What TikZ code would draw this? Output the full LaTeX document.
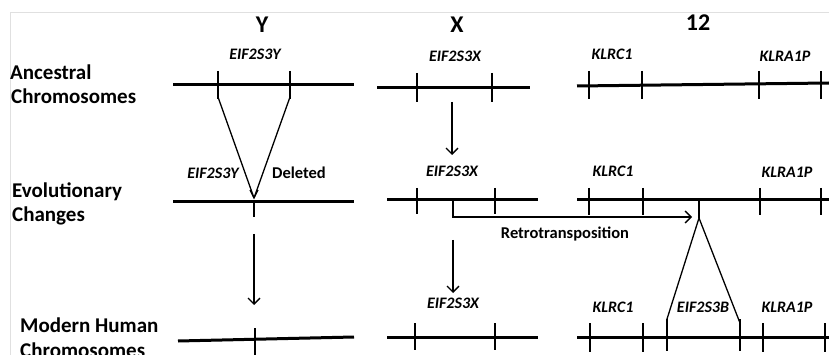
\documentclass[tikz,border=0pt]{standalone}
\usepackage{fontspec}
\setmainfont{Carlito}
\usetikzlibrary{arrows.meta}
\begin{document}
\begin{tikzpicture}[x=1pt,y=-1pt,
  chrom/.style={line width=3pt},
  tickmark/.style={line width=2pt},
  conn/.style={line width=1.3pt},
  arr/.style={conn,-{Straight Barb[length=6pt,width=12pt,line width=1.3pt]}},
  rowlab/.style={font=\bfseries\fontsize{21}{25}\selectfont,anchor=base west,inner sep=0},
  title/.style={font=\bfseries\fontsize{24}{28}\selectfont,anchor=base,inner sep=0},
  gene/.style={font=\bfseries\itshape\fontsize{16}{19}\selectfont,anchor=base,inner sep=0},
  plain/.style={font=\bfseries\fontsize{16.5}{20}\selectfont,anchor=base,inner sep=0},
  frame/.style={draw=black!12,line width=0.8pt}]
\useasboundingbox (0,0) rectangle (829,355);
\fill[white] (0,0) rectangle (829,355);
\draw[frame] (10,355) -- (10,12) -- (829,12);

% row labels
\node[rowlab] (anc1) at (10,80) {Ancestral};
\node[rowlab] (anc2) at (11,104) {Chromosomes};
\node[rowlab] (evo1) at (12,198) {Evolutionary};
\node[rowlab] (evo2) at (12,222) {Changes};
\node[rowlab] (mod1) at (20,332) {Modern Human};
\node[rowlab] (mod2) at (20,357) {Chromosomes};

% titles
\node[title] (tY) at (262,33) {Y};
\node[title] (tX) at (457,33) {X};
\node[title] (t12) at (698,31) {12};

% gene labels row 1
\node[gene] (g1Y) at (255,60) {EIF2S3Y};
\node[gene] (g1X) at (455,62) {EIF2S3X};
\node[gene] (g1K) at (612,60) {KLRC1};
\node[gene] (g1A) at (785,62) {KLRA1P};
% row 2
\node[gene] (g2Y) at (213,179) {EIF2S3Y};
\node[plain] (del) at (299,179) {Deleted};
\node[gene] (g2X) at (452,177) {EIF2S3X};
\node[gene] (g2K) at (613,177) {KLRC1};
\node[gene] (g2A) at (787,178) {KLRA1P};
\node[plain] (retro) at (565,239) {Retrotransposition};
% row 3
\node[gene] (g3X) at (453,308) {EIF2S3X};
\node[gene] (g3K) at (613,312) {KLRC1};
\node[gene] (g3B) at (703,312) {EIF2S3B};
\node[gene] (g3A) at (787,312) {KLRA1P};

% ---- row 1 chromosomes
\draw[chrom] (173,85) -- (354,85);
\foreach \x in {218,290} \draw[tickmark] (\x,71) -- (\x,99);
\draw[chrom] (377,88) -- (530,88);
\foreach \x in {417,492} \draw[tickmark] (\x,73) -- (\x,102);
\draw[chrom] (577,86) -- (829,83);
\foreach \x in {589,642,759,821} \draw[tickmark] (\x,71) -- (\x,99);

% ---- row 2 chromosomes
\draw[chrom] (173,202) -- (354,202);
\draw[tickmark] (254,200) -- (254,217);
\draw[chrom] (387,200) -- (538,200);
\foreach \x in {417,495} \draw[tickmark] (\x,188) -- (\x,214);
\draw[chrom] (577,200) -- (829,200);
\foreach \x in {589,643,760,821} \draw[tickmark] (\x,188) -- (\x,215);
\draw[tickmark] (699,200) -- (699,218);

% ---- row 3 chromosomes
\draw[chrom] (178,341) -- (354,337);
\draw[tickmark] (255,328) -- (255,356);
\draw[chrom] (387,337) -- (538,337);
\foreach \x in {415,495} \draw[tickmark] (\x,323) -- (\x,350);
\draw[chrom] (577,337) -- (829,337);
\foreach \x in {590,643,763,825} \draw[tickmark] (\x,323) -- (\x,352);
\foreach \x in {667,740} \draw[tickmark] (\x,319) -- (\x,351);

% ---- connectors
\coordinate (yL) at (218,97);
\coordinate (yR) at (290,97);
\coordinate (yApex) at (254,198);
\draw[conn] (yL) -- (yApex);
\draw[conn] (yR) -- (yApex);
\draw[conn] (250,190) -- (yApex) -- (258,190);

\coordinate (yA1) at (254,234);
\coordinate (yA2) at (254,305);
\draw[arr] (yA1) -- (yA2);

\coordinate (xA1) at (452,102);
\coordinate (xA2) at (452,155);
\draw[arr] (xA1) -- (xA2);
\coordinate (xB1) at (453,240);
\coordinate (xB2) at (453,293);
\draw[arr] (xB1) -- (xB2);

\coordinate (rS) at (453,201);
\coordinate (rE) at (692,217);
\draw[arr] (rS) |- (rE);

\coordinate (bApex) at (699,218);
\coordinate (bL) at (667,319);
\coordinate (bR) at (740,323);
\draw[conn] (bApex) -- (bL);
\draw[conn] (bApex) -- (bR);
\end{tikzpicture}
\end{document}
